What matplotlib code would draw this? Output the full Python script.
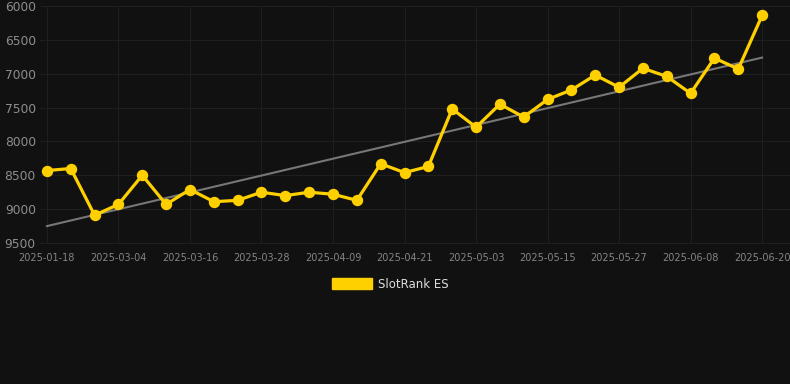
import matplotlib
matplotlib.use("Agg")
import matplotlib.pyplot as plt
from matplotlib.patches import Patch
import numpy as np
import datetime as dt

# ranking values (lower = better, axis inverted)
ranks = [8430, 8400, 9090, 8930, 8500, 8930, 8710, 8890, 8870, 8750,
         8800, 8750, 8780, 8870, 8330, 8460, 8370, 7520, 7790, 7450,
         7640, 7380, 7240, 7020, 7200, 6920, 7040, 7290, 6770, 6930, 6140]

# first point, then every 4 days from 2025-02-24
start = dt.date(2025, 2, 24)
dates = ["2025-01-18"] + [(start + dt.timedelta(days=4 * i)).isoformat() for i in range(30)]
yticks = [6000, 6500, 7000, 7500, 8000, 8500, 9000, 9500]

bg = "#111111"
gold = "#FFD000"

fig = plt.figure(figsize=(7.9, 3.84), dpi=100, facecolor=bg)
ax = fig.add_axes([40 / 790, 1 - 243 / 384, 750 / 790, 237 / 384], facecolor=bg)

x = np.arange(len(ranks))
k, b = np.polyfit(x, ranks, 1)
ax.plot(x, k * x + b, color="#777777", lw=1.5, zorder=2)
ax.plot(x, ranks, color=gold, lw=2.3, marker="o", ms=7.2, zorder=3)

ax.set_xlim(-0.29, 31.17)
ax.set_ylim(9500, 6000)
ax.set_yticks(yticks)
ax.set_xticks(x[::3])
ax.set_xticklabels(dates[::3])
ax.grid(True, color="#1f1f1f", lw=0.8)
ax.set_axisbelow(True)
for s in ax.spines.values():
    s.set_visible(False)
ax.spines["bottom"].set_visible(True)
ax.spines["bottom"].set_color("#1f1f1f")
ax.tick_params(axis="y", length=0, pad=3, labelsize=8.8, labelcolor="#8e8e8e")
ax.tick_params(axis="x", length=0, pad=7, labelsize=7, labelcolor="#858585")

fig.legend(handles=[Patch(color=gold, label="SlotRank ES")], loc="center",
           bbox_to_anchor=(390 / 790, 1 - 284 / 384), frameon=False,
           fontsize=8.5, labelcolor="#dddddd", handlelength=3.4, handleheight=1.0,
           handletextpad=0.5)

fig.savefig("out.png", dpi=100, facecolor=bg)
